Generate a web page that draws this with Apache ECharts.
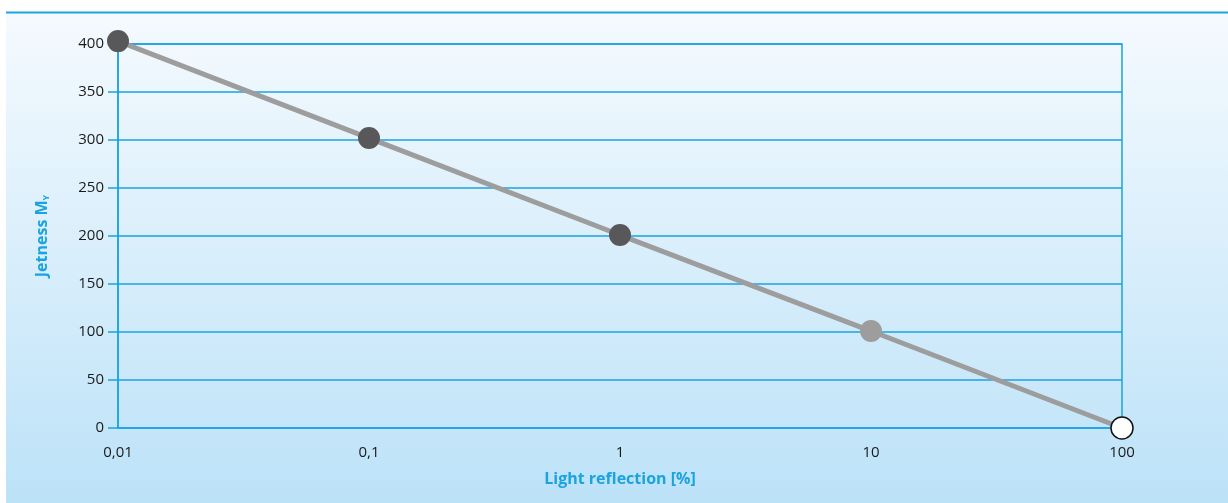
<!DOCTYPE html>
<html>
<head>
<meta charset="utf-8">
<style>
html,body{margin:0;padding:0;background:#ffffff;}
#chart{width:1228px;height:503px;}
</style>
<script src="https://cdn.jsdelivr.net/npm/echarts@6/dist/echarts.min.js"></script>
</head>
<body>
<div id="chart"></div>
<script>
// Data
var reflection = [0.01, 0.1, 1, 10, 100];          // Light reflection [%]
var jetness = [403, 302, 201, 101, 0];             // Jetness My
var xTickLabels = ['0,01', '0,1', '1', '10', '100'];
var yTicks = [0, 50, 100, 150, 200, 250, 300, 350, 400];
var markerFill = ['#58585a', '#58585a', '#58585a', '#9d9d9d', '#ffffff'];

var chart = echarts.init(document.getElementById('chart'), null, {renderer: 'canvas'});
var cyan = '#1aa3e0';
var font = '"Open Sans", "Noto Sans", sans-serif';

var points = reflection.map(function (x, i) {
  return {
    value: [x, jetness[i]],
    itemStyle: {
      color: markerFill[i],
      borderColor: markerFill[i] === '#ffffff' ? '#111111' : markerFill[i],
      borderWidth: markerFill[i] === '#ffffff' ? 1.5 : 0
    }
  };
});

var option = {
  animation: false,
  graphic: [
    {
      type: 'rect', z: -10, silent: true,
      shape: {x: 6, y: 12, width: 1222, height: 491},
      style: {
        fill: new echarts.graphic.LinearGradient(0, 0, 0, 1, [
          {offset: 0, color: '#f5fafe'},
          {offset: 1, color: '#bce2f8'}
        ])
      }
    },
    {
      type: 'line', z: -9, silent: true,
      shape: {x1: 6, y1: 12.5, x2: 1228, y2: 12.5},
      style: {stroke: '#1aa6e2', lineWidth: 2}
    }
  ],
  grid: {
    left: 118, right: 106, top: 44, bottom: 75,
    show: true, borderColor: cyan, borderWidth: 1.5, backgroundColor: 'transparent'
  },
  xAxis: {
    type: 'log', logBase: 10, min: 0.01, max: 100,
    name: 'Light reflection [%]',
    nameLocation: 'middle', nameGap: 43,
    nameTextStyle: {color: cyan, fontSize: 16, fontWeight: 'bold', fontFamily: font},
    axisLine: {show: false},
    axisTick: {show: false},
    splitLine: {show: false},
    minorTick: {show: false},
    axisLabel: {
      color: '#1a1a1a', fontSize: 15, fontFamily: font, margin: 17,
      formatter: function (v) {
        var idx = Math.round(Math.log10(v)) + 2;
        return xTickLabels[idx] || '';
      }
    }
  },
  yAxis: {
    type: 'value', min: 0, max: 400, interval: 50,
    name: '{a|Jetness M}{s|Y}',
    nameLocation: 'middle', nameGap: 67, nameRotate: 90,
    nameTextStyle: {
      rich: {
        a: {color: cyan, fontSize: 16, fontWeight: 'bold', fontFamily: font},
        s: {color: cyan, fontSize: 9, fontWeight: 'bold', fontFamily: font, verticalAlign: 'bottom', padding: [9, 0, 0, 0]}
      }
    },
    axisLine: {show: true, lineStyle: {color: cyan, width: 1.5}},
    axisTick: {show: true, length: 10, lineStyle: {color: cyan, width: 1.5}},
    splitLine: {show: true, lineStyle: {color: cyan, width: 1.5}},
    axisLabel: {
      color: '#1a1a1a', fontSize: 15, fontFamily: font, margin: 14,
      formatter: function (v) { return yTicks.indexOf(v) >= 0 ? String(v) : ''; }
    }
  },
  series: [{
    type: 'line',
    data: points,
    symbol: 'circle',
    symbolSize: 22,
    clip: false,
    lineStyle: {color: '#9d9d9d', width: 5},
    z: 5
  }]
};
chart.setOption(option);
</script>
</body>
</html>
